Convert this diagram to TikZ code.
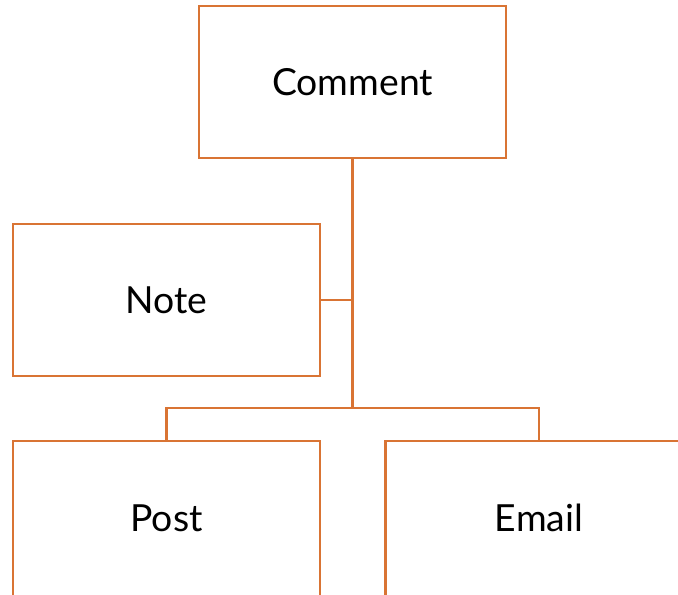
\documentclass[tikz,border=0pt]{standalone}
\usepackage{fontspec}
\setmainfont{Lato}
\usetikzlibrary{positioning}
\definecolor{boxorange}{RGB}{217,116,52}
\tikzset{
  box/.style={draw=boxorange, line width=1.9pt, rectangle, fill=white,
    minimum width=230pt, minimum height=114pt, inner sep=0pt,
    font=\fontsize{28}{33}\selectfont},
  link/.style={draw=boxorange, line width=1.9pt}
}

\begin{document}
\begin{tikzpicture}[x=.75pt,y=-.75pt]
\clip (0,0) rectangle (678,594);
\useasboundingbox (0,0) rectangle (678,594);
% boxes
\node[box] (comment) at (352.5,82) {Comment};
\node[box] (note) at (166.5,300) {Note};
% bottom row runs off the page
\node[box,minimum height=120pt,text depth=0pt] (post) at (166.5,521) {\raisebox{5pt}{Post}};
\node[box,minimum height=120pt] (email) at (539,521) {\raisebox{5pt}{Email}};
% connectors
\coordinate (split) at (352.5,408);
\draw[link] (comment.south) -- (split);
\draw[link] (note.east) -- (note.east -| split);
\draw[link] (post.north) |- (split) -| (email.north);
\end{tikzpicture}
\end{document}
